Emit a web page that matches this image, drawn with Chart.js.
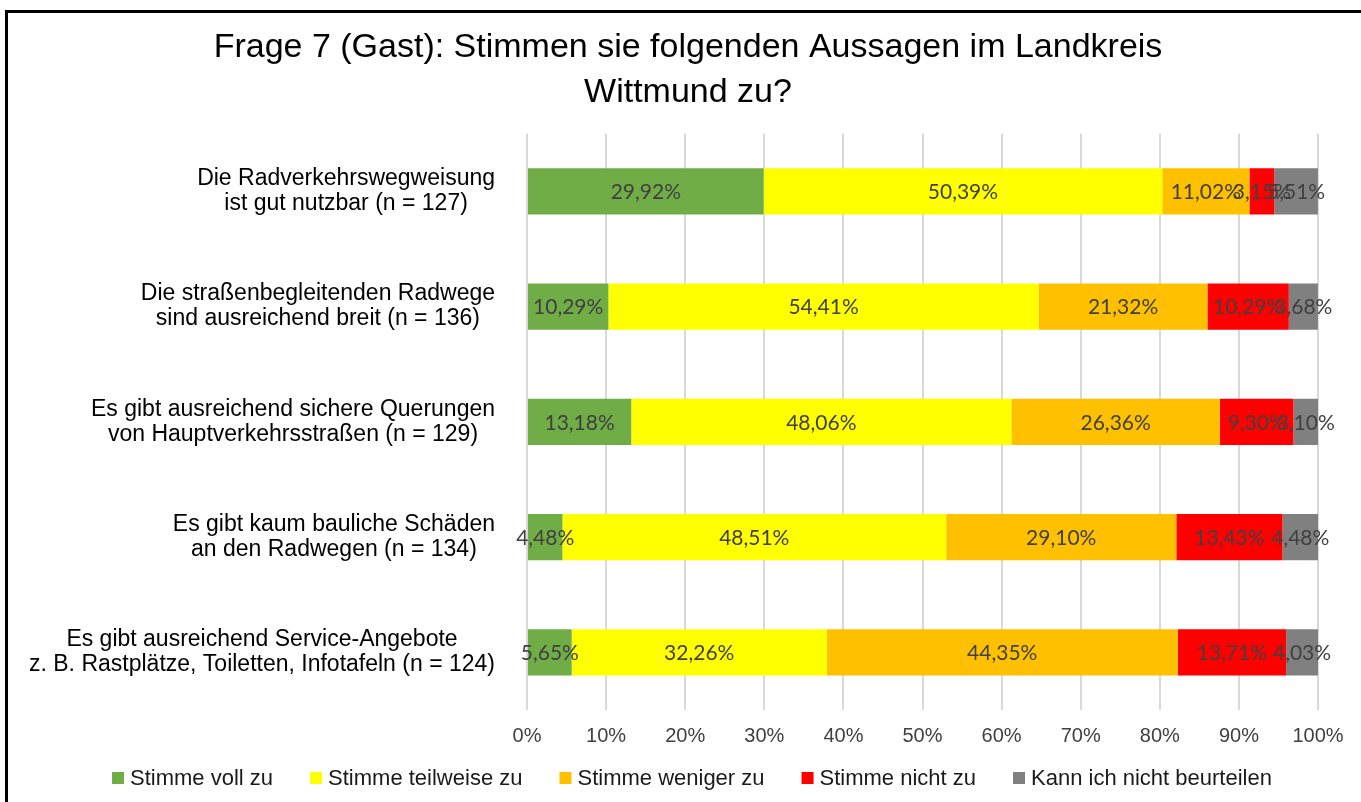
<!DOCTYPE html>
<html>
<head>
<meta charset="utf-8">
<script src="https://cdn.jsdelivr.net/npm/chart.js@4.4.1/dist/chart.umd.min.js"></script>
<style>
  html, body { margin: 0; padding: 0; background: #fff; overflow: hidden; }
  #wrap { position: absolute; left: 0; top: 0; width: 1361px; height: 802px; }
  #frame { position: absolute; left: 5px; top: 10px; width: 1400px; height: 900px;
           border: 3px solid #000; pointer-events: none; }
</style>
</head>
<body>
<div id="wrap">
  <canvas id="chart" width="1361" height="802"></canvas>
  <div id="frame"></div>
</div>
<script>
const titleLines = ['Frage 7 (Gast): Stimmen sie folgenden Aussagen im Landkreis', 'Wittmund zu?'];

const categories = [
    ['Die Radverkehrswegweisung', 'ist gut nutzbar (n = 127)'],
    ['Die straßenbegleitenden Radwege', 'sind ausreichend breit (n = 136)'],
    ['Es gibt ausreichend sichere Querungen', 'von Hauptverkehrsstraßen (n = 129)'],
    ['Es gibt kaum bauliche Schäden', 'an den Radwegen (n = 134)'],
    ['Es gibt ausreichend Service-Angebote', 'z. B. Rastplätze, Toiletten, Infotafeln (n = 124)']
];

const seriesNames = ['Stimme voll zu', 'Stimme teilweise zu', 'Stimme weniger zu', 'Stimme nicht zu', 'Kann ich nicht beurteilen'];
const seriesColors = ['#70AD47', '#FFFF00', '#FFC000', '#FF0000', '#808080'];

const vollZu      = [29.92, 10.29, 13.18, 4.48, 5.65];
const teilweiseZu = [50.39, 54.41, 48.06, 48.51, 32.26];
const wenigerZu   = [11.02, 21.32, 26.36, 29.10, 44.35];
const nichtZu     = [3.15, 10.29, 9.30, 13.43, 13.71];
const kannNicht   = [5.51, 3.68, 3.10, 4.48, 4.03];

const xTicks = [0, 10, 20, 30, 40, 50, 60, 70, 80, 90, 100];

const seriesValues = [vollZu, teilweiseZu, wenigerZu, nichtZu, kannNicht];

const fmt = v => v.toFixed(2).replace('.', ',') + '%';

// values centered in each segment
const valueLabels = {
    id: 'valueLabels',
    afterDatasetsDraw(chart) {
        const ctx = chart.ctx;
        ctx.save();
        ctx.font = '21px Lato';
        ctx.fillStyle = '#404040';
        ctx.textAlign = 'center';
        ctx.textBaseline = 'middle';
        chart.data.datasets.forEach((ds, i) => {
            chart.getDatasetMeta(i).data.forEach((bar, j) => {
                const p = bar.getProps(['x', 'y', 'base'], true);
                ctx.fillText(fmt(ds.data[j]), (p.x + p.base) / 2, p.y + 1);
            });
        });
        ctx.restore();
    }
};

// category labels: block right aligned, lines centered in the block
const categoryLabels = {
    id: 'categoryLabels',
    afterDraw(chart) {
        const ctx = chart.ctx;
        const yScale = chart.scales.y;
        const right = chart.chartArea.left - 32;
        ctx.save();
        ctx.font = '23px "Liberation Sans"';
        ctx.fillStyle = '#000';
        ctx.textAlign = 'center';
        ctx.textBaseline = 'middle';
        chart.data.labels.forEach((lines, i) => {
            const y = yScale.getPixelForTick(i);
            const w = Math.max(...lines.map(l => ctx.measureText(l).width));
            const cx = right - w / 2;
            const lh = 25;
            lines.forEach((l, k) => {
                ctx.fillText(l, cx, y + (k - (lines.length - 1) / 2) * lh);
            });
        });
        ctx.restore();
    }
};

// legend row along the bottom, Excel style
const bottomLegend = {
    id: 'bottomLegend',
    afterDraw(chart) {
        const ctx = chart.ctx;
        const box = 12, gapBox = 6, gapItem = 37, y = 778;
        ctx.save();
        ctx.font = '22px "Liberation Sans"';
        ctx.textBaseline = 'middle';
        ctx.textAlign = 'left';
        const items = chart.data.datasets.map(ds => ({
            text: ds.label,
            color: ds.backgroundColor,
            w: ctx.measureText(ds.label).width
        }));
        const total = items.reduce((s, it) => s + box + gapBox + it.w, 0) + gapItem * (items.length - 1);
        let x = 692 - total / 2;
        items.forEach(it => {
            ctx.fillStyle = it.color;
            ctx.fillRect(x, y - box / 2, box, box);
            x += box + gapBox;
            ctx.fillStyle = '#1a1a1a';
            ctx.fillText(it.text, x, y + 1);
            x += it.w + gapItem;
        });
        ctx.restore();
    }
};

new Chart(document.getElementById('chart'), {
    type: 'bar',
    data: {
        labels: categories,
        datasets: seriesNames.map((name, i) => ({
            label: name,
            data: seriesValues[i],
            backgroundColor: seriesColors[i],
            borderWidth: 0,
            categoryPercentage: 1,
            barPercentage: 0.4
        }))
    },
    options: {
        indexAxis: 'y',
        responsive: false,
        animation: false,
        layout: { padding: { top: 25, right: 43, bottom: 40, left: 58 } },
        scales: {
            x: {
                stacked: true,
                min: 0,
                max: 100,
                afterBuildTicks: scale => { scale.ticks = xTicks.map(v => ({ value: v })); },
                grid: { color: '#D9D9D9', lineWidth: 2, drawTicks: false },
                border: { display: false },
                ticks: {
                    callback: v => v + '%',
                    color: '#404040',
                    font: { family: 'Liberation Sans', size: 20 },
                    padding: 14,
                    maxRotation: 0,
                    autoSkip: false
                }
            },
            y: {
                stacked: true,
                grid: { display: false },
                border: { display: false },
                ticks: { display: false },
                afterFit: scale => { scale.width = 527 - 58; }
            }
        },
        plugins: {
            title: {
                display: true,
                text: titleLines,
                color: '#000',
                font: { family: 'Liberation Sans', size: 34, weight: 'normal', lineHeight: 1.32 },
                padding: { top: 0, bottom: 19 }
            },
            legend: { display: false },
            tooltip: { enabled: false }
        }
    },
    plugins: [valueLabels, categoryLabels, bottomLegend]
});
</script>
</body>
</html>
